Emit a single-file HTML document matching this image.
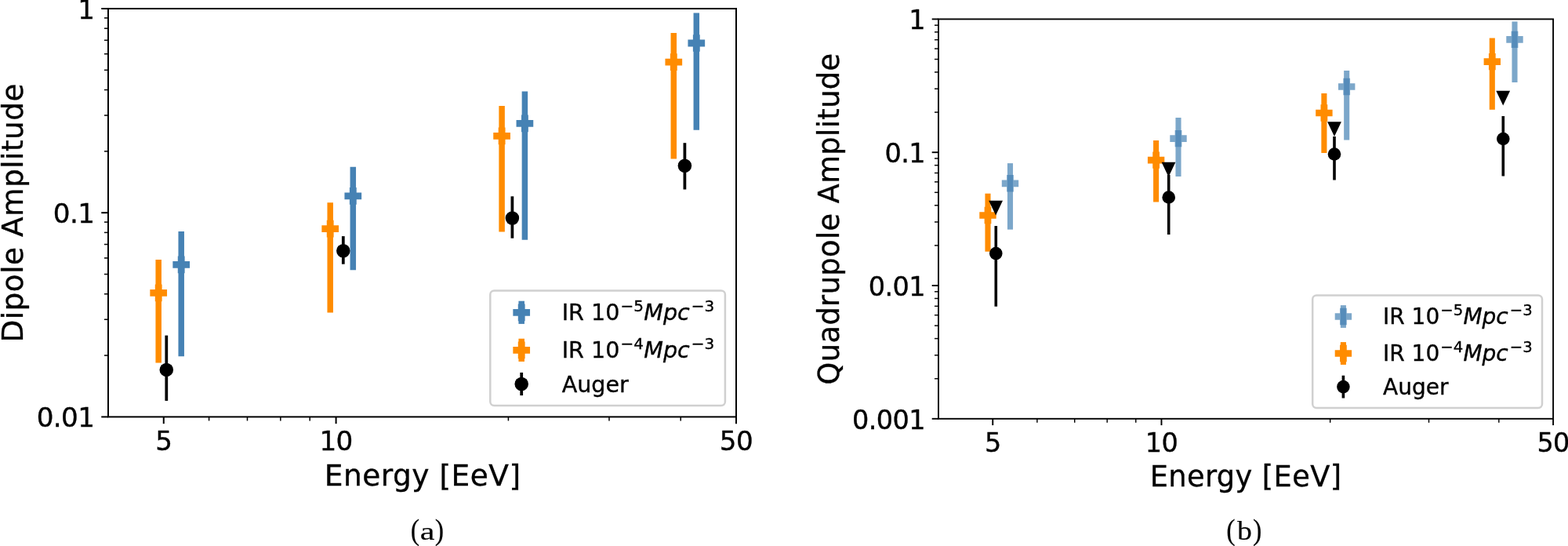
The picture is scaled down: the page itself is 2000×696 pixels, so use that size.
<!DOCTYPE html>
<html lang="en"><head><meta charset="utf-8"><title>Dipole and Quadrupole Amplitude</title>
<style>html,body{margin:0;padding:0;background:#fff;overflow:hidden}svg{display:block}text{font-family:"DejaVu Sans","Liberation Sans",sans-serif;fill:#000;stroke:#000;stroke-width:0.35px}.cap{font-family:"Liberation Serif","DejaVu Serif",serif;stroke-width:0.15px}</style></head><body>
<svg width="2000" height="696" viewBox="0 0 2000 696">
<rect width="2000" height="696" fill="#fff"/>
<rect x="138" y="11" width="801" height="520.4" fill="none" stroke="#000" stroke-width="2"/>
<line x1="208.77" y1="531.4" x2="208.77" y2="540.15" stroke="#000" stroke-width="2"/>
<line x1="428.59" y1="531.4" x2="428.59" y2="540.15" stroke="#000" stroke-width="2"/>
<line x1="939.00" y1="531.4" x2="939.00" y2="540.15" stroke="#000" stroke-width="2"/>
<line x1="266.59" y1="531.4" x2="266.59" y2="536.4" stroke="#000" stroke-width="1.5"/>
<line x1="315.47" y1="531.4" x2="315.47" y2="536.4" stroke="#000" stroke-width="1.5"/>
<line x1="357.82" y1="531.4" x2="357.82" y2="536.4" stroke="#000" stroke-width="1.5"/>
<line x1="395.18" y1="531.4" x2="395.18" y2="536.4" stroke="#000" stroke-width="1.5"/>
<line x1="648.41" y1="531.4" x2="648.41" y2="536.4" stroke="#000" stroke-width="1.5"/>
<line x1="777.00" y1="531.4" x2="777.00" y2="536.4" stroke="#000" stroke-width="1.5"/>
<line x1="868.23" y1="531.4" x2="868.23" y2="536.4" stroke="#000" stroke-width="1.5"/>
<line x1="138" y1="531.40" x2="129.25" y2="531.40" stroke="#000" stroke-width="2"/>
<line x1="138" y1="453.07" x2="133" y2="453.07" stroke="#000" stroke-width="1.5"/>
<line x1="138" y1="407.25" x2="133" y2="407.25" stroke="#000" stroke-width="1.5"/>
<line x1="138" y1="374.74" x2="133" y2="374.74" stroke="#000" stroke-width="1.5"/>
<line x1="138" y1="349.53" x2="133" y2="349.53" stroke="#000" stroke-width="1.5"/>
<line x1="138" y1="328.93" x2="133" y2="328.93" stroke="#000" stroke-width="1.5"/>
<line x1="138" y1="311.51" x2="133" y2="311.51" stroke="#000" stroke-width="1.5"/>
<line x1="138" y1="296.42" x2="133" y2="296.42" stroke="#000" stroke-width="1.5"/>
<line x1="138" y1="283.11" x2="133" y2="283.11" stroke="#000" stroke-width="1.5"/>
<line x1="138" y1="271.20" x2="129.25" y2="271.20" stroke="#000" stroke-width="2"/>
<line x1="138" y1="192.87" x2="133" y2="192.87" stroke="#000" stroke-width="1.5"/>
<line x1="138" y1="147.05" x2="133" y2="147.05" stroke="#000" stroke-width="1.5"/>
<line x1="138" y1="114.54" x2="133" y2="114.54" stroke="#000" stroke-width="1.5"/>
<line x1="138" y1="89.33" x2="133" y2="89.33" stroke="#000" stroke-width="1.5"/>
<line x1="138" y1="68.73" x2="133" y2="68.73" stroke="#000" stroke-width="1.5"/>
<line x1="138" y1="51.31" x2="133" y2="51.31" stroke="#000" stroke-width="1.5"/>
<line x1="138" y1="36.22" x2="133" y2="36.22" stroke="#000" stroke-width="1.5"/>
<line x1="138" y1="22.91" x2="133" y2="22.91" stroke="#000" stroke-width="1.5"/>
<line x1="138" y1="11.00" x2="129.25" y2="11.00" stroke="#000" stroke-width="2"/>
<text x="208.77" y="574.10" font-size="34.2" text-anchor="middle" letter-spacing="-0.6">5</text>
<text x="428.59" y="574.10" font-size="34.2" text-anchor="middle" letter-spacing="-0.6">10</text>
<text x="939.00" y="574.10" font-size="34.2" text-anchor="middle" letter-spacing="-0.6">50</text>
<text x="120.40" y="23.90" font-size="34.2" text-anchor="end" letter-spacing="-0.6">1</text>
<text x="120.40" y="284.10" font-size="34.2" text-anchor="end" letter-spacing="-0.6">0.1</text>
<text x="120.40" y="544.30" font-size="34.2" text-anchor="end" letter-spacing="-0.6">0.01</text>
<text x="539.20" y="618.50" font-size="37.5" text-anchor="middle" letter-spacing="0.49">Energy [EeV]</text>
<text transform="translate(29.2,271.3) rotate(-90)" font-size="37.5" letter-spacing="0.43" text-anchor="middle">Dipole Amplitude</text>
<line x1="231.20" y1="295.00" x2="231.20" y2="454.30" stroke="#4682b4" stroke-width="7.5"/>
<path d="M227.98,327.75 L234.42,327.75 L234.42,334.18 L240.85,334.18 L240.85,340.62 L234.42,340.62 L234.42,347.05 L227.98,347.05 L227.98,340.62 L221.55,340.62 L221.55,334.18 L227.98,334.18Z" fill="#4682b4" stroke="#4682b4" stroke-width="2.4" stroke-linejoin="miter"/>
<line x1="450.30" y1="212.70" x2="450.30" y2="344.20" stroke="#4682b4" stroke-width="7.5"/>
<path d="M447.08,240.15 L453.52,240.15 L453.52,246.58 L459.95,246.58 L459.95,253.02 L453.52,253.02 L453.52,259.45 L447.08,259.45 L447.08,253.02 L440.65,253.02 L440.65,246.58 L447.08,246.58Z" fill="#4682b4" stroke="#4682b4" stroke-width="2.4" stroke-linejoin="miter"/>
<line x1="669.40" y1="116.60" x2="669.40" y2="305.80" stroke="#4682b4" stroke-width="7.5"/>
<path d="M666.18,147.65 L672.62,147.65 L672.62,154.08 L679.05,154.08 L679.05,160.52 L672.62,160.52 L672.62,166.95 L666.18,166.95 L666.18,160.52 L659.75,160.52 L659.75,154.08 L666.18,154.08Z" fill="#4682b4" stroke="#4682b4" stroke-width="2.4" stroke-linejoin="miter"/>
<line x1="888.30" y1="16.40" x2="888.30" y2="165.70" stroke="#4682b4" stroke-width="7.5"/>
<path d="M885.08,45.35 L891.52,45.35 L891.52,51.78 L897.95,51.78 L897.95,58.22 L891.52,58.22 L891.52,64.65 L885.08,64.65 L885.08,58.22 L878.65,58.22 L878.65,51.78 L885.08,51.78Z" fill="#4682b4" stroke="#4682b4" stroke-width="2.4" stroke-linejoin="miter"/>
<line x1="202.20" y1="331.10" x2="202.20" y2="462.40" stroke="#ff8c00" stroke-width="7.5"/>
<path d="M198.98,363.75 L205.42,363.75 L205.42,370.18 L211.85,370.18 L211.85,376.62 L205.42,376.62 L205.42,383.05 L198.98,383.05 L198.98,376.62 L192.55,376.62 L192.55,370.18 L198.98,370.18Z" fill="#ff8c00" stroke="#ff8c00" stroke-width="2.4" stroke-linejoin="miter"/>
<line x1="421.20" y1="258.20" x2="421.20" y2="398.50" stroke="#ff8c00" stroke-width="7.5"/>
<path d="M417.98,282.05 L424.42,282.05 L424.42,288.48 L430.85,288.48 L430.85,294.92 L424.42,294.92 L424.42,301.35 L417.98,301.35 L417.98,294.92 L411.55,294.92 L411.55,288.48 L417.98,288.48Z" fill="#ff8c00" stroke="#ff8c00" stroke-width="2.4" stroke-linejoin="miter"/>
<line x1="640.10" y1="135.00" x2="640.10" y2="295.50" stroke="#ff8c00" stroke-width="7.5"/>
<path d="M636.88,163.65 L643.32,163.65 L643.32,170.08 L649.75,170.08 L649.75,176.52 L643.32,176.52 L643.32,182.95 L636.88,182.95 L636.88,176.52 L630.45,176.52 L630.45,170.08 L636.88,170.08Z" fill="#ff8c00" stroke="#ff8c00" stroke-width="2.4" stroke-linejoin="miter"/>
<line x1="859.30" y1="41.90" x2="859.30" y2="202.60" stroke="#ff8c00" stroke-width="7.5"/>
<path d="M856.08,69.45 L862.52,69.45 L862.52,75.88 L868.95,75.88 L868.95,82.32 L862.52,82.32 L862.52,88.75 L856.08,88.75 L856.08,82.32 L849.65,82.32 L849.65,75.88 L856.08,75.88Z" fill="#ff8c00" stroke="#ff8c00" stroke-width="2.4" stroke-linejoin="miter"/>
<line x1="212.30" y1="427.60" x2="212.30" y2="510.90" stroke="#000" stroke-width="3.75"/>
<circle cx="212.30" cy="471.40" r="8.75" fill="#000"/>
<line x1="437.80" y1="301.10" x2="437.80" y2="336.70" stroke="#000" stroke-width="3.75"/>
<circle cx="437.80" cy="319.80" r="8.75" fill="#000"/>
<line x1="653.40" y1="250.30" x2="653.40" y2="303.70" stroke="#000" stroke-width="3.75"/>
<circle cx="653.40" cy="278.00" r="8.75" fill="#000"/>
<line x1="873.40" y1="182.20" x2="873.40" y2="241.50" stroke="#000" stroke-width="3.75"/>
<circle cx="873.40" cy="211.20" r="8.75" fill="#000"/>
<rect x="625.3" y="370.4" width="299.6" height="146.60000000000002" rx="5" fill="#fff" fill-opacity="0.8" stroke="#ccc" stroke-opacity="0.92" stroke-width="2.5"/>
<line x1="665.20" y1="383.70" x2="665.20" y2="412.90" stroke="#4682b4" stroke-width="7.5"/>
<path d="M661.98,388.65 L668.42,388.65 L668.42,395.08 L674.85,395.08 L674.85,401.52 L668.42,401.52 L668.42,407.95 L661.98,407.95 L661.98,401.52 L655.55,401.52 L655.55,395.08 L661.98,395.08Z" fill="#4682b4" stroke="#4682b4" stroke-width="2.4" stroke-linejoin="miter"/>
<line x1="665.20" y1="431.70" x2="665.20" y2="460.90" stroke="#ff8c00" stroke-width="7.5"/>
<path d="M661.98,436.65 L668.42,436.65 L668.42,443.08 L674.85,443.08 L674.85,449.52 L668.42,449.52 L668.42,455.95 L661.98,455.95 L661.98,449.52 L655.55,449.52 L655.55,443.08 L661.98,443.08Z" fill="#ff8c00" stroke="#ff8c00" stroke-width="2.4" stroke-linejoin="miter"/>
<line x1="665.20" y1="474.90" x2="665.20" y2="504.10" stroke="#000" stroke-width="3.75"/>
<circle cx="665.20" cy="489.50" r="8.75" fill="#000"/>
<text x="716.7" y="407.9" font-size="28.6">IR 10<tspan font-size="20" dx="1" dy="-10.8">−5</tspan><tspan font-style="oblique" dx="0.3" dy="10.8" font-size="28.6">Mpc</tspan><tspan font-size="20" dx="2.0" dy="-10.8">−3</tspan></text>
<text x="716.7" y="455.8" font-size="28.6">IR 10<tspan font-size="20" dx="1" dy="-10.8">−4</tspan><tspan font-style="oblique" dx="0.3" dy="10.8" font-size="28.6">Mpc</tspan><tspan font-size="20" dx="2.0" dy="-10.8">−3</tspan></text>
<text x="716.7" y="499.9" font-size="28.6">Auger</text>
<text class="cap" transform="translate(529.40,688) scale(0.9,1)" font-size="38" text-anchor="middle">(</text><text class="cap" transform="translate(545.20,688) scale(1.3,1)" font-size="32.5" text-anchor="middle">a</text><text class="cap" transform="translate(560.40,688) scale(0.9,1)" font-size="38" text-anchor="middle">)</text>
<rect x="1197" y="24.4" width="784.0999999999999" height="509.4" fill="none" stroke="#000" stroke-width="1.9"/>
<line x1="1266.27" y1="533.8" x2="1266.27" y2="542.0999999999999" stroke="#000" stroke-width="1.9"/>
<line x1="1481.46" y1="533.8" x2="1481.46" y2="542.0999999999999" stroke="#000" stroke-width="1.9"/>
<line x1="1981.10" y1="533.8" x2="1981.10" y2="542.0999999999999" stroke="#000" stroke-width="1.9"/>
<line x1="1322.87" y1="533.8" x2="1322.87" y2="538.8" stroke="#000" stroke-width="1.45"/>
<line x1="1370.73" y1="533.8" x2="1370.73" y2="538.8" stroke="#000" stroke-width="1.45"/>
<line x1="1412.18" y1="533.8" x2="1412.18" y2="538.8" stroke="#000" stroke-width="1.45"/>
<line x1="1448.75" y1="533.8" x2="1448.75" y2="538.8" stroke="#000" stroke-width="1.45"/>
<line x1="1696.64" y1="533.8" x2="1696.64" y2="538.8" stroke="#000" stroke-width="1.45"/>
<line x1="1822.52" y1="533.8" x2="1822.52" y2="538.8" stroke="#000" stroke-width="1.45"/>
<line x1="1911.83" y1="533.8" x2="1911.83" y2="538.8" stroke="#000" stroke-width="1.45"/>
<line x1="1197" y1="533.80" x2="1188.7" y2="533.80" stroke="#000" stroke-width="1.9"/>
<line x1="1197" y1="482.69" x2="1192" y2="482.69" stroke="#000" stroke-width="1.45"/>
<line x1="1197" y1="452.78" x2="1192" y2="452.78" stroke="#000" stroke-width="1.45"/>
<line x1="1197" y1="431.57" x2="1192" y2="431.57" stroke="#000" stroke-width="1.45"/>
<line x1="1197" y1="415.11" x2="1192" y2="415.11" stroke="#000" stroke-width="1.45"/>
<line x1="1197" y1="401.67" x2="1192" y2="401.67" stroke="#000" stroke-width="1.45"/>
<line x1="1197" y1="390.30" x2="1192" y2="390.30" stroke="#000" stroke-width="1.45"/>
<line x1="1197" y1="380.46" x2="1192" y2="380.46" stroke="#000" stroke-width="1.45"/>
<line x1="1197" y1="371.77" x2="1192" y2="371.77" stroke="#000" stroke-width="1.45"/>
<line x1="1197" y1="364.00" x2="1188.7" y2="364.00" stroke="#000" stroke-width="1.9"/>
<line x1="1197" y1="312.89" x2="1192" y2="312.89" stroke="#000" stroke-width="1.45"/>
<line x1="1197" y1="282.98" x2="1192" y2="282.98" stroke="#000" stroke-width="1.45"/>
<line x1="1197" y1="261.77" x2="1192" y2="261.77" stroke="#000" stroke-width="1.45"/>
<line x1="1197" y1="245.31" x2="1192" y2="245.31" stroke="#000" stroke-width="1.45"/>
<line x1="1197" y1="231.87" x2="1192" y2="231.87" stroke="#000" stroke-width="1.45"/>
<line x1="1197" y1="220.50" x2="1192" y2="220.50" stroke="#000" stroke-width="1.45"/>
<line x1="1197" y1="210.66" x2="1192" y2="210.66" stroke="#000" stroke-width="1.45"/>
<line x1="1197" y1="201.97" x2="1192" y2="201.97" stroke="#000" stroke-width="1.45"/>
<line x1="1197" y1="194.20" x2="1188.7" y2="194.20" stroke="#000" stroke-width="1.9"/>
<line x1="1197" y1="143.09" x2="1192" y2="143.09" stroke="#000" stroke-width="1.45"/>
<line x1="1197" y1="113.18" x2="1192" y2="113.18" stroke="#000" stroke-width="1.45"/>
<line x1="1197" y1="91.97" x2="1192" y2="91.97" stroke="#000" stroke-width="1.45"/>
<line x1="1197" y1="75.51" x2="1192" y2="75.51" stroke="#000" stroke-width="1.45"/>
<line x1="1197" y1="62.07" x2="1192" y2="62.07" stroke="#000" stroke-width="1.45"/>
<line x1="1197" y1="50.70" x2="1192" y2="50.70" stroke="#000" stroke-width="1.45"/>
<line x1="1197" y1="40.86" x2="1192" y2="40.86" stroke="#000" stroke-width="1.45"/>
<line x1="1197" y1="32.17" x2="1192" y2="32.17" stroke="#000" stroke-width="1.45"/>
<line x1="1197" y1="24.40" x2="1188.7" y2="24.40" stroke="#000" stroke-width="1.9"/>
<text x="1266.27" y="575.70" font-size="33.5" text-anchor="middle" letter-spacing="-0.6">5</text>
<text x="1481.46" y="575.70" font-size="33.5" text-anchor="middle" letter-spacing="-0.6">10</text>
<text x="1981.10" y="575.70" font-size="33.5" text-anchor="middle" letter-spacing="-0.6">50</text>
<text x="1180.00" y="37.10" font-size="33.5" text-anchor="end" letter-spacing="-0.6">1</text>
<text x="1180.00" y="206.90" font-size="33.5" text-anchor="end" letter-spacing="-0.6">0.1</text>
<text x="1180.00" y="376.70" font-size="33.5" text-anchor="end" letter-spacing="-0.6">0.01</text>
<text x="1180.00" y="546.50" font-size="33.5" text-anchor="end" letter-spacing="-0.6">0.001</text>
<text x="1589.05" y="619.70" font-size="36.75" text-anchor="middle" letter-spacing="0.4">Energy [EeV]</text>
<text transform="translate(1069.8,279.0) rotate(-90)" font-size="36.75" letter-spacing="0.4" text-anchor="middle">Quadrupole Amplitude</text>
<line x1="1288.50" y1="208.10" x2="1288.50" y2="292.60" stroke="#4682b4" stroke-width="7.1" opacity="0.7"/>
<path d="M1285.33,224.30 L1291.67,224.30 L1291.67,230.63 L1298.00,230.63 L1298.00,236.97 L1291.67,236.97 L1291.67,243.30 L1285.33,243.30 L1285.33,236.97 L1279.00,236.97 L1279.00,230.63 L1285.33,230.63Z" fill="#4682b4" stroke="#4682b4" stroke-width="2.4" stroke-linejoin="miter" opacity="0.7"/>
<line x1="1503.00" y1="150.00" x2="1503.00" y2="225.00" stroke="#4682b4" stroke-width="7.1" opacity="0.7"/>
<path d="M1499.83,167.10 L1506.17,167.10 L1506.17,173.43 L1512.50,173.43 L1512.50,179.77 L1506.17,179.77 L1506.17,186.10 L1499.83,186.10 L1499.83,179.77 L1493.50,179.77 L1493.50,173.43 L1499.83,173.43Z" fill="#4682b4" stroke="#4682b4" stroke-width="2.4" stroke-linejoin="miter" opacity="0.7"/>
<line x1="1717.70" y1="90.00" x2="1717.70" y2="178.50" stroke="#4682b4" stroke-width="7.1" opacity="0.7"/>
<path d="M1714.53,101.00 L1720.87,101.00 L1720.87,107.33 L1727.20,107.33 L1727.20,113.67 L1720.87,113.67 L1720.87,120.00 L1714.53,120.00 L1714.53,113.67 L1708.20,113.67 L1708.20,107.33 L1714.53,107.33Z" fill="#4682b4" stroke="#4682b4" stroke-width="2.4" stroke-linejoin="miter" opacity="0.7"/>
<line x1="1932.00" y1="27.50" x2="1932.00" y2="105.00" stroke="#4682b4" stroke-width="7.1" opacity="0.7"/>
<path d="M1928.83,40.90 L1935.17,40.90 L1935.17,47.23 L1941.50,47.23 L1941.50,53.57 L1935.17,53.57 L1935.17,59.90 L1928.83,59.90 L1928.83,53.57 L1922.50,53.57 L1922.50,47.23 L1928.83,47.23Z" fill="#4682b4" stroke="#4682b4" stroke-width="2.4" stroke-linejoin="miter" opacity="0.7"/>
<line x1="1260.00" y1="246.70" x2="1260.00" y2="320.70" stroke="#ff8c00" stroke-width="7.1"/>
<path d="M1256.83,265.00 L1263.17,265.00 L1263.17,271.33 L1269.50,271.33 L1269.50,277.67 L1263.17,277.67 L1263.17,284.00 L1256.83,284.00 L1256.83,277.67 L1250.50,277.67 L1250.50,271.33 L1256.83,271.33Z" fill="#ff8c00" stroke="#ff8c00" stroke-width="2.4" stroke-linejoin="miter"/>
<line x1="1474.60" y1="179.00" x2="1474.60" y2="257.50" stroke="#ff8c00" stroke-width="7.1"/>
<path d="M1471.43,194.60 L1477.77,194.60 L1477.77,200.93 L1484.10,200.93 L1484.10,207.27 L1477.77,207.27 L1477.77,213.60 L1471.43,213.60 L1471.43,207.27 L1465.10,207.27 L1465.10,200.93 L1471.43,200.93Z" fill="#ff8c00" stroke="#ff8c00" stroke-width="2.4" stroke-linejoin="miter"/>
<line x1="1688.90" y1="119.00" x2="1688.90" y2="195.00" stroke="#ff8c00" stroke-width="7.1"/>
<path d="M1685.73,134.50 L1692.07,134.50 L1692.07,140.83 L1698.40,140.83 L1698.40,147.17 L1692.07,147.17 L1692.07,153.50 L1685.73,153.50 L1685.73,147.17 L1679.40,147.17 L1679.40,140.83 L1685.73,140.83Z" fill="#ff8c00" stroke="#ff8c00" stroke-width="2.4" stroke-linejoin="miter"/>
<line x1="1903.30" y1="48.50" x2="1903.30" y2="139.80" stroke="#ff8c00" stroke-width="7.1"/>
<path d="M1900.13,69.10 L1906.47,69.10 L1906.47,75.43 L1912.80,75.43 L1912.80,81.77 L1906.47,81.77 L1906.47,88.10 L1900.13,88.10 L1900.13,81.77 L1893.80,81.77 L1893.80,75.43 L1900.13,75.43Z" fill="#ff8c00" stroke="#ff8c00" stroke-width="2.4" stroke-linejoin="miter"/>
<line x1="1270.30" y1="288.00" x2="1270.30" y2="390.70" stroke="#000" stroke-width="3.6"/>
<circle cx="1270.30" cy="323.10" r="8.30" fill="#000"/>
<line x1="1490.70" y1="223.00" x2="1490.70" y2="299.00" stroke="#000" stroke-width="3.6"/>
<circle cx="1490.70" cy="251.50" r="8.30" fill="#000"/>
<line x1="1702.00" y1="174.00" x2="1702.00" y2="229.50" stroke="#000" stroke-width="3.6"/>
<circle cx="1702.00" cy="196.50" r="8.30" fill="#000"/>
<line x1="1917.30" y1="148.00" x2="1917.30" y2="224.50" stroke="#000" stroke-width="3.6"/>
<circle cx="1917.30" cy="177.00" r="8.30" fill="#000"/>
<path d="M1270.10,271.85 L1263.05,256.95 L1277.15,256.95Z" fill="#000" stroke="#000" stroke-width="2.35" stroke-linejoin="miter"/>
<path d="M1490.50,222.85 L1483.45,207.95 L1497.55,207.95Z" fill="#000" stroke="#000" stroke-width="2.35" stroke-linejoin="miter"/>
<path d="M1702.00,171.35 L1694.95,156.45 L1709.05,156.45Z" fill="#000" stroke="#000" stroke-width="2.35" stroke-linejoin="miter"/>
<path d="M1917.20,131.85 L1910.15,116.95 L1924.25,116.95Z" fill="#000" stroke="#000" stroke-width="2.35" stroke-linejoin="miter"/>
<rect x="1674.2" y="376.4" width="292.79999999999995" height="143.60000000000002" rx="5" fill="#fff" fill-opacity="0.8" stroke="#ccc" stroke-opacity="0.92" stroke-width="2.5"/>
<line x1="1713.40" y1="389.10" x2="1713.40" y2="417.90" stroke="#4682b4" stroke-width="7.1" opacity="0.7"/>
<path d="M1710.23,394.00 L1716.57,394.00 L1716.57,400.33 L1722.90,400.33 L1722.90,406.67 L1716.57,406.67 L1716.57,413.00 L1710.23,413.00 L1710.23,406.67 L1703.90,406.67 L1703.90,400.33 L1710.23,400.33Z" fill="#4682b4" stroke="#4682b4" stroke-width="2.4" stroke-linejoin="miter" opacity="0.7"/>
<line x1="1713.40" y1="436.10" x2="1713.40" y2="464.90" stroke="#ff8c00" stroke-width="7.1"/>
<path d="M1710.23,441.00 L1716.57,441.00 L1716.57,447.33 L1722.90,447.33 L1722.90,453.67 L1716.57,453.67 L1716.57,460.00 L1710.23,460.00 L1710.23,453.67 L1703.90,453.67 L1703.90,447.33 L1710.23,447.33Z" fill="#ff8c00" stroke="#ff8c00" stroke-width="2.4" stroke-linejoin="miter"/>
<line x1="1713.40" y1="478.70" x2="1713.40" y2="507.50" stroke="#000" stroke-width="3.6"/>
<circle cx="1713.40" cy="493.10" r="8.30" fill="#000"/>
<text x="1764" y="412.7" font-size="28.0">IR 10<tspan font-size="19.6" dx="1" dy="-10.6">−5</tspan><tspan font-style="oblique" dx="0.3" dy="10.6" font-size="28.0">Mpc</tspan><tspan font-size="19.6" dx="2.0" dy="-10.6">−3</tspan></text>
<text x="1764" y="459.7" font-size="28.0">IR 10<tspan font-size="19.6" dx="1" dy="-10.6">−4</tspan><tspan font-style="oblique" dx="0.3" dy="10.6" font-size="28.0">Mpc</tspan><tspan font-size="19.6" dx="2.0" dy="-10.6">−3</tspan></text>
<text x="1764" y="503" font-size="28.0">Auger</text>
<text class="cap" transform="translate(1570.00,688) scale(0.9,1)" font-size="38" text-anchor="middle">(</text><text class="cap" transform="translate(1587.40,688) scale(1.1,1)" font-size="34.5" text-anchor="middle">b</text><text class="cap" transform="translate(1603.60,688) scale(0.9,1)" font-size="38" text-anchor="middle">)</text>
</svg></body></html>
